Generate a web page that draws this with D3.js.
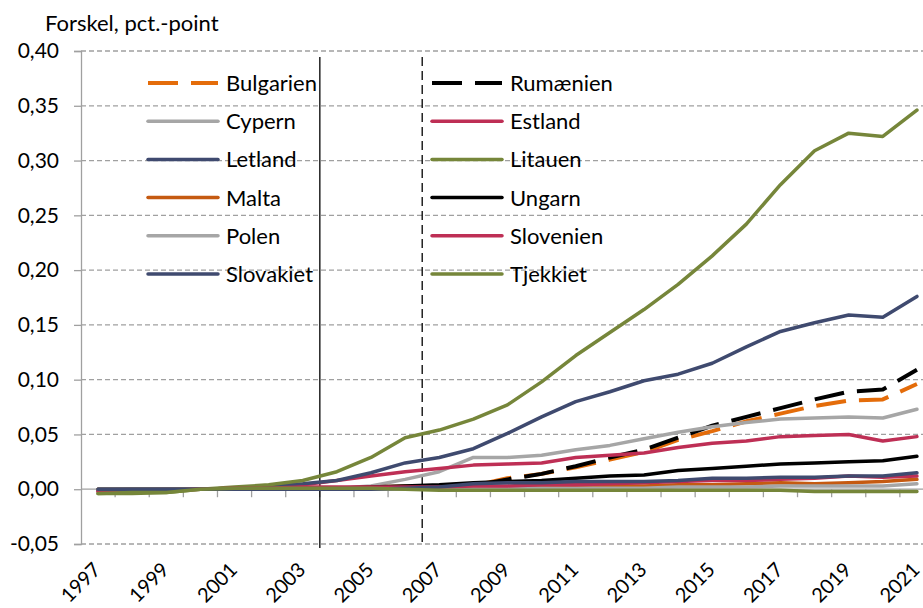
<!DOCTYPE html>
<html>
<head>
<meta charset="utf-8">
<script src="https://cdn.jsdelivr.net/npm/d3@7"></script>
<style>
  body { margin: 0; background: #fff; }
  svg text { font-family: Lato, "Open Sans", sans-serif; fill: #000; }
</style>
</head>
<body>
<script>
var width = 923,
    height = 608;

// plot area edges (the right edge runs past the picture, like the original)
var plot = {left: 81, right: 934, top: 51, bottom: 544};

var years = [1997, 1998, 1999, 2000, 2001, 2002, 2003, 2004, 2005, 2006, 2007, 2008, 2009,
    2010, 2011, 2012, 2013, 2014, 2015, 2016, 2017, 2018, 2019, 2020, 2021];
var yearLabels = [1997, 1999, 2001, 2003, 2005, 2007, 2009, 2011, 2013, 2015, 2017, 2019, 2021];
var yTicks = [-0.05, 0, 0.05, 0.10, 0.15, 0.20, 0.25, 0.30, 0.35, 0.40];
var markYears = [2004, 2007];

var names = ['Bulgarien', 'Rumænien', 'Cypern', 'Estland', 'Letland', 'Litauen',
    'Malta', 'Ungarn', 'Polen', 'Slovenien', 'Slovakiet', 'Tjekkiet'];

var bulgarien = [null, null, null, null, null, null, null, null, null, null,
    0.000, 0.003, 0.010, 0.014, 0.020, 0.027, 0.034, 0.045, 0.053, 0.062, 0.069, 0.076, 0.081, 0.082, 0.096];
var rumaenien = [null, null, null, null, null, null, null, null, null, null,
    0.000, 0.003, 0.009, 0.014, 0.021, 0.029, 0.036, 0.047, 0.058, 0.066, 0.074, 0.082, 0.089, 0.091, 0.109];
var cypern = [0, 0, 0, 0, 0, 0, 0.000, 0.001, 0.003, 0.009, 0.016, 0.029, 0.029, 0.031, 0.036,
    0.040, 0.046, 0.052, 0.057, 0.061, 0.064, 0.065, 0.066, 0.065, 0.073];
var estland = [-0.002, -0.001, 0, 0, 0.001, 0.002, 0.004, 0.008, 0.012, 0.016, 0.019, 0.022, 0.023,
    0.024, 0.029, 0.031, 0.033, 0.038, 0.042, 0.044, 0.048, 0.049, 0.050, 0.044, 0.048];
var letland = [-0.001, 0, 0, 0, 0.001, 0.003, 0.005, 0.008, 0.015, 0.024, 0.029, 0.037, 0.051,
    0.066, 0.080, 0.089, 0.099, 0.105, 0.115, 0.130, 0.144, 0.152, 0.159, 0.157, 0.176];
var litauen = [-0.004, -0.004, -0.003, 0.000, 0.002, 0.004, 0.008, 0.016, 0.029, 0.047, 0.054, 0.064, 0.077,
    0.098, 0.122, 0.143, 0.164, 0.187, 0.213, 0.242, 0.278, 0.309, 0.325, 0.322, 0.346];
var malta = [0, 0, 0, 0, 0, 0, 0, 0.001, 0.002, 0.003, 0.002, 0.002, 0.002,
    0.002, 0.003, 0.003, 0.003, 0.004, 0.004, 0.005, 0.006, 0.005, 0.006, 0.007, 0.009];
var ungarn = [0, 0, 0, 0, 0, 0, 0, 0.001, 0.002, 0.003, 0.004, 0.006, 0.007,
    0.008, 0.010, 0.012, 0.013, 0.017, 0.019, 0.021, 0.023, 0.024, 0.025, 0.026, 0.030];
var polen = [0, 0, 0, 0, 0, 0, 0, 0, 0, 0, 0, 0.001, 0.001,
    0.001, 0.001, 0.001, 0.001, 0.002, 0.002, 0.002, 0.003, 0.003, 0.003, 0.003, 0.005];
var slovenien = [-0.002, -0.001, -0.001, 0, 0.001, 0.001, 0.002, 0.002, 0.002, 0.002, 0.002, 0.003, 0.003,
    0.004, 0.004, 0.005, 0.006, 0.007, 0.008, 0.008, 0.009, 0.010, 0.012, 0.011, 0.012];
var slovakiet = [0, 0, 0, 0, 0, 0, 0, 0, 0, 0.001, 0.002, 0.005, 0.006,
    0.006, 0.007, 0.007, 0.007, 0.008, 0.010, 0.010, 0.011, 0.011, 0.012, 0.012, 0.015];
var tjekkiet = [-0.004, -0.003, -0.003, 0, 0.001, 0.001, 0.001, 0.001, 0.001, 0, -0.001, -0.001, -0.001,
    -0.001, -0.001, -0.001, -0.001, -0.001, -0.001, -0.001, -0.001, -0.002, -0.002, -0.002, -0.002];

var values = [bulgarien, rumaenien, cypern, estland, letland, litauen,
    malta, ungarn, polen, slovenien, slovakiet, tjekkiet];

// styles, in the same order as names
var colors = ['#e46c0a', '#000000', '#a6a6a6', '#be2f55', '#3f4a6f', '#76863a',
    '#c55a11', '#000000', '#a6a6a6', '#be2f55', '#3f4a6f', '#76863a'];
var dashed = [true, true, false, false, false, false, false, false, false, false, false, false];

var series = names.map(function(n, i) {
  return {name: n, values: values[i], color: colors[i], dashed: dashed[i]};
});

var x = d3.scalePoint()
    .domain(years)
    .range([plot.left, plot.right])
    .padding(0.5);

var step = x.step();

var y = d3.scaleLinear()
    .domain([-0.05, 0.40])
    .range([plot.bottom, plot.top]);

var fmt = function(v) {
  return (v < -1e-9 ? "-" : "") + Math.abs(v).toFixed(2).replace(".", ",");
};

var svg = d3.select("body").append("svg")
    .attr("width", width)
    .attr("height", height);

// dashed grid
svg.append("g")
    .selectAll("line")
    .data(yTicks.filter(function(d) { return d !== 0; }))
    .enter().append("line")
    .attr("x1", plot.left)
    .attr("x2", plot.right)
    .attr("y1", function(d) { return y(d); })
    .attr("y2", function(d) { return y(d); })
    .attr("stroke", "#a0a0a0")
    .attr("stroke-width", 1.3)
    .attr("stroke-dasharray", "5,3");

// y axis
var yAxis = svg.append("g")
    .attr("transform", "translate(" + plot.left + ",0)")
    .call(d3.axisLeft(y).tickValues(yTicks).tickFormat(fmt).tickSize(7).tickPadding(15));
yAxis.select(".domain").attr("stroke", "#a0a0a0").attr("stroke-width", 1.3);
yAxis.selectAll(".tick line").attr("stroke", "#a0a0a0").attr("stroke-width", 1.3);
yAxis.selectAll(".tick text")
    .style("font-size", "21px")
    .attr("fill", "#000");

// category axis at zero, ticks between years
var bounds = years.map(function(d) { return x(d) - step / 2; }).slice(1);
svg.append("line")
    .attr("x1", plot.left)
    .attr("x2", plot.right)
    .attr("y1", y(0))
    .attr("y2", y(0))
    .attr("stroke", "#a0a0a0")
    .attr("stroke-width", 1.3);
svg.append("g")
    .selectAll("line")
    .data(bounds)
    .enter().append("line")
    .attr("x1", function(d) { return d; })
    .attr("x2", function(d) { return d; })
    .attr("y1", y(0))
    .attr("y2", y(0) + 8)
    .attr("stroke", "#a0a0a0")
    .attr("stroke-width", 1.3);

svg.append("g")
    .selectAll("text")
    .data(yearLabels)
    .enter().append("text")
    .attr("transform", function(d) { return "translate(" + (x(d) + 4) + "," + 571 + ") rotate(-45)"; })
    .attr("text-anchor", "end")
    .style("font-size", "20px")
    .text(function(d) { return d; });

// EU accession markers
svg.selectAll(".mark")
    .data(markYears)
    .enter().append("line")
    .attr("class", "mark")
    .attr("x1", function(d) { return x(d) - step / 2; })
    .attr("x2", function(d) { return x(d) - step / 2; })
    .attr("y1", 57)
    .attr("y2", function(d, i) { return i ? plot.bottom : plot.bottom + 4; })
    .attr("stroke", "#000")
    .attr("stroke-width", 1.3)
    .attr("stroke-dasharray", function(d, i) { return i ? "9,5" : null; });

var line = d3.line()
    .defined(function(d) { return d.v != null; })
    .x(function(d) { return x(d.year); })
    .y(function(d) { return y(d.v); });

svg.append("g")
    .selectAll("path")
    .data(series)
    .enter().append("path")
    .attr("d", function(s) {
      return line(s.values.map(function(v, i) { return {year: years[i], v: v}; }));
    })
    .attr("fill", "none")
    .attr("stroke", function(s) { return s.color; })
    .attr("stroke-width", function(s) { return s.dashed ? 4 : 3.5; })
    .attr("stroke-linejoin", "round")
    .attr("stroke-linecap", function(s) { return s.dashed ? "butt" : "round"; })
    .attr("stroke-dasharray", function(s) { return s.dashed ? "30,13" : null; });

// legend, two columns
var lx = [148, 432],
    ly = 83,
    rowH = 38.2;

var legend = svg.append("g")
    .selectAll("g")
    .data(series)
    .enter().append("g")
    .attr("transform", function(s, i) {
      return "translate(" + lx[i % 2] + "," + (ly + Math.floor(i / 2) * rowH) + ")";
    });

legend.append("line")
    .attr("x1", 0)
    .attr("x2", 70)
    .attr("stroke", function(s) { return s.color; })
    .attr("stroke-width", function(s) { return s.dashed ? 4 : 3.5; })
    .attr("stroke-linecap", function(s) { return s.dashed ? "butt" : "round"; })
    .attr("stroke-dasharray", function(s) { return s.dashed ? "30,13" : null; });

legend.append("text")
    .attr("x", 78)
    .attr("dy", "0.36em")
    .style("font-size", "22px")
    .text(function(s) { return s.name; });

svg.append("text")
    .attr("x", 45)
    .attr("y", 31)
    .style("font-size", "22px")
    .text("Forskel, pct.-point");
</script>
</body>
</html>
